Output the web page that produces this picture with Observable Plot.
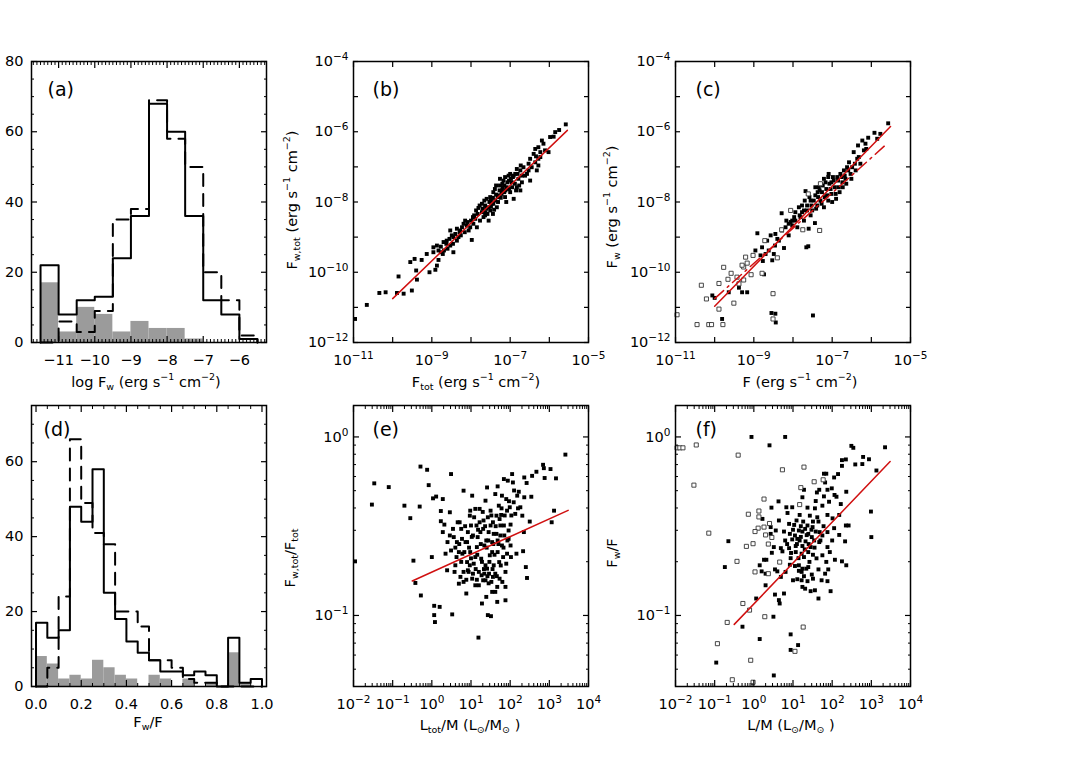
<!DOCTYPE html>
<html><head><meta charset="utf-8">
<script src="https://cdn.jsdelivr.net/npm/d3@7"></script>
<script src="https://cdn.jsdelivr.net/npm/@observablehq/plot@0.6"></script>
<style>
html,body{margin:0;padding:0;background:#fff;}
#fig{position:relative;width:1090px;height:778px;overflow:hidden;background:#fff;font-family:"DejaVu Sans",sans-serif;}
.panel{position:absolute;}
.panel svg{overflow:visible;}
.lab{position:absolute;font-size:14.5px;white-space:nowrap;transform:translate(-50%,-50%);color:#000;line-height:1;}
.lab.rot{transform:translate(-50%,-50%) rotate(-90deg);}
.lab sub{font-size:9.5px;vertical-align:-3px;line-height:0;}
.lab sup{font-size:9.5px;vertical-align:7px;line-height:0;}
</style></head><body><div id="fig"></div>
<script>
// ---------------- DATA ----------------
// (a) histogram of log Fw, bins of width 0.5 (lower edges)
const binsA = [-11.5,-11,-10.5,-10,-9.5,-9,-8.5,-8,-7.5,-7,-6.5,-6];
const histA_solid = [22,8,12,13,24,36,68,60,36,12,8,1];
const histA_dashed = [0,6,3,9,35,38,69,58,50,20,12,2];
const histA_grey = [17,3,10,8,3,6,4,4,1,0,0,0];
// (d) histogram of Fw/F, bins of width 0.05 (lower edges)
const binsD = [0,0.05,0.1,0.15,0.2,0.25,0.3,0.35,0.4,0.45,0.5,0.55,0.6,0.65,0.7,0.75,0.8,0.85,0.9,0.95];
const histD_solid = [17,13,15,48,44,58,25,18,12,9,7,4,4,3,4,3,0,13,1,2];
const histD_dashed = [0,5,24,66,49,41,38,20,20,16,7,7,5,2,1,1,0,0,0,0];
const histD_grey = [8,6,2,3,2,7,5,3,2,0,3,2,0,2,0,1,0,9,1,0];

// (b) [log10 Ftot, log10 Fw,tot]
const bPoints = [[-10.96,-11.33],[-10.66,-10.93],[-10.34,-10.59],[-10.18,-10.57],[-9.89,-10.59],[-9.72,-10.61],[-9.51,-10.52],[-9.85,-10.12],[-9.55,-9.71],[-9.44,-9.62],[-9.26,-9.65],[-9.40,-9.95],[-9.38,-10.21],[-9.13,-9.48],[-9.06,-10.0],[-8.96,-9.29],[-8.91,-9.93],[-8.87,-9.81],[-8.83,-9.65],[-8.87,-9.24],[-8.77,-9.27],[-8.69,-9.38],[-8.72,-9.48],[-8.62,-9.10],[-8.45,-9.43],[-8.53,-8.81],[-8.49,-8.95],[-8.40,-8.91],[-8.32,-9.0],[-8.23,-8.72],[-8.28,-8.81],[-8.15,-8.53],[-8.11,-8.67],[-7.98,-9.08],[-8.06,-8.81],[-7.94,-8.62],[-7.89,-8.48],[-7.81,-8.17],[-7.85,-8.72],[-7.72,-8.29],[-7.68,-8.43],[-7.64,-8.10],[-7.60,-7.91],[-7.55,-8.53],[-7.51,-8.24],[-7.47,-8.05],[-7.51,-7.86],[-7.43,-7.72],[-7.38,-7.96],[-7.34,-8.15],[-7.30,-7.81],[-7.26,-7.53],[-7.21,-7.67],[-7.17,-7.39],[-7.13,-7.86],[-7.09,-7.58],[-7.04,-7.25],[-7.0,-7.72],[-6.96,-7.44],[-6.91,-7.91],[-6.87,-7.20],[-6.83,-7.58],[-6.79,-7.34],[-6.74,-7.10],[-6.70,-7.44],[-6.66,-7.01],[-6.74,-7.67],[-6.57,-7.20],[-6.49,-7.39],[-6.53,-6.91],[-6.49,-6.77],[-6.40,-6.63],[-6.36,-6.87],[-6.32,-7.10],[-6.28,-6.96],[-6.36,-6.49],[-6.28,-6.44],[-6.23,-6.58],[-6.19,-6.25],[-6.15,-6.34],[-6.11,-6.53],[-6.02,-6.58],[-5.98,-6.15],[-5.85,-6.01],[-5.75,-5.95],[-5.89,-6.14],[-5.58,-5.79],
[-7.72,-8.05],[-7.66,-7.96],[-7.61,-8.19],[-7.58,-8.34],[-7.53,-8.00],[-7.49,-8.13],[-7.44,-7.88],[-7.41,-8.22],[-7.36,-7.79],[-7.31,-8.00],[-7.27,-7.67],[-7.24,-7.88],[-7.20,-7.48],[-7.15,-7.72],[-7.13,-7.29],[-7.10,-8.00],[-7.07,-7.44],[-7.03,-7.63],[-6.98,-7.34],[-6.95,-7.58],[-6.91,-7.25],[-6.88,-7.48],[-6.85,-7.67],[-6.81,-7.20],[-6.77,-7.53],[-7.15,-7.53],[-7.26,-7.34],[-7.36,-7.53],[-7.44,-8.34],[-7.64,-8.38],[-7.77,-8.53],[-7.83,-8.34],[-7.92,-8.38],[-8.00,-8.53],[-8.09,-8.57],[-8.19,-8.62],[-8.29,-8.86],[-8.36,-8.76],[-8.45,-9.00],[-8.55,-9.05],[-8.63,-9.19],[-8.70,-9.14],[-8.77,-9.43],[-8.83,-9.38],[-8.96,-9.43],[-8.02,-8.72],[-7.95,-8.43],[-7.87,-8.24],[-7.78,-8.10],[-7.70,-8.19],[-7.63,-8.29],[-7.55,-8.15],[-7.43,-8.05],[-7.32,-7.86],[-7.22,-7.77],[-7.12,-7.67],[-7.03,-7.39],[-6.93,-7.29],[-6.62,-7.25],[-6.70,-7.25],[-6.53,-7.10],[-6.45,-7.01],[-6.28,-6.77],[-6.23,-6.72],[-6.34,-6.70],[-6.73,-6.96],[-6.83,-7.06],[-7.0,-7.20],[-7.19,-7.58],[-7.39,-7.63],[-7.49,-7.96],[-8.46,-9.19],[-8.36,-9.10],[-8.26,-8.95],[-8.16,-8.86],[-8.60,-9.33],[-8.53,-9.24]];

// (c) [log10 F, log10 Fw], filled and open symbols
const cFilled = [[-10.06,-10.66],[-10.0,-10.73],[-9.81,-11.33],[-9.64,-10.57],[-9.38,-10.44],[-9.30,-10.57],[-9.17,-10.57],[-8.91,-8.89],[-8.96,-9.38],[-8.79,-9.29],[-8.74,-10.06],[-8.77,-9.68],[-8.66,-9.10],[-8.57,-8.95],[-8.53,-9.66],[-8.49,-9.48],[-8.45,-8.91],[-8.40,-9.05],[-8.29,-8.32],[-8.28,-8.81],[-8.23,-9.31],[-8.19,-8.72],[-8.11,-8.95],[-8.06,-8.57],[-8.02,-8.67],[-7.94,-8.53],[-7.89,-8.72],[-7.85,-8.15],[-7.81,-8.43],[-7.77,-8.29],[-7.72,-8.53],[-7.68,-7.69],[-7.66,-9.29],[-7.61,-9.26],[-7.64,-8.10],[-7.60,-8.76],[-7.55,-7.96],[-7.51,-8.24],[-7.49,-11.23],[-7.44,-8.60],[-7.43,-7.81],[-7.38,-8.10],[-7.34,-7.58],[-7.30,-7.96],[-7.26,-7.72],[-7.21,-8.15],[-7.17,-7.44],[-7.13,-7.81],[-7.09,-7.20],[-7.04,-7.63],[-7.0,-8.00],[-6.96,-7.39],[-6.91,-7.77],[-6.87,-7.29],[-6.83,-7.58],[-6.79,-7.20],[-6.74,-7.44],[-6.70,-7.10],[-6.66,-7.34],[-6.57,-6.87],[-6.53,-7.20],[-6.49,-7.01],[-6.45,-6.58],[-6.40,-7.10],[-6.36,-6.77],[-6.34,-6.39],[-6.28,-6.91],[-6.23,-6.25],[-6.15,-6.34],[-6.08,-6.17],[-5.92,-6.03],[-5.85,-6.20],[-5.77,-6.06],[-5.57,-5.76],[-8.55,-11.16],[-8.45,-11.18],[-8.44,-11.43],
[-7.77,-8.10],[-7.70,-7.96],[-7.64,-8.24],[-7.58,-7.86],[-7.53,-8.10],[-7.47,-7.96],[-7.41,-8.19],[-7.36,-7.86],[-7.32,-7.67],[-7.27,-8.05],[-7.24,-7.53],[-7.19,-7.86],[-7.15,-7.63],[-7.10,-7.96],[-7.07,-7.48],[-7.02,-7.77],[-6.98,-7.29],[-6.93,-7.58],[-6.90,-7.91],[-6.85,-7.39],[-6.81,-7.72],[-6.76,-7.29],[-6.73,-7.58],[-6.68,-7.25],[-6.64,-7.48],[-6.59,-7.10],[-6.62,-7.01],[-6.51,-7.34],[-6.42,-6.91],[-6.32,-6.72],[-6.19,-6.53],[-6.13,-6.49],[-8.02,-8.53],[-7.97,-8.43],[-8.11,-8.62],[-8.17,-8.53],[-8.36,-9.10],[-8.46,-9.24],[-8.62,-9.38],[-8.70,-9.48],[-8.83,-9.52],[-7.94,-8.29],[-7.83,-8.38],[-7.72,-8.24],[-7.10,-7.29],[-7.02,-7.44],[-7.21,-7.34],[-7.43,-7.58],[-7.37,-7.72],[-7.55,-8.38]];
const cOpen = [[-10.96,-11.21],[-10.45,-11.49],[-10.15,-11.49],[-10.08,-11.49],[-9.79,-11.49],[-9.89,-11.05],[-10.34,-10.37],[-10.21,-10.76],[-9.89,-10.32],[-9.77,-9.86],[-9.58,-10.03],[-9.66,-10.20],[-9.51,-10.88],[-9.43,-10.14],[-9.38,-10.33],[-9.26,-10.22],[-9.26,-9.85],[-9.30,-9.80],[-9.17,-9.74],[-9.07,-10.07],[-9.02,-9.52],[-9.21,-9.57],[-8.79,-10.03],[-8.72,-9.10],[-8.51,-10.61],[-8.51,-11.33],[-8.40,-9.59],[-8.29,-8.79],[-8.06,-8.24],[-7.75,-8.79],[-7.61,-7.77],[-7.32,-8.81],[-7.30,-7.48]];

// (e) [log10 Ltot/M, log10 Fw,tot/Ftot]
const ePoints = [[-1.96,-0.697],[-1.53,-0.379],[-1.47,-0.260],[-1.10,-0.281],[-0.70,-0.385],[-0.55,-0.455],[-0.47,-0.693],[-0.42,-0.818],[-0.29,-0.166],[-0.31,-0.390],[-0.28,-0.888],[-0.12,-0.184],[-0.08,-0.270],[0.0,-0.673],[0.03,-0.344],[0.06,-0.946],[0.06,-0.998],[0.08,-1.037],[0.11,-0.334],[0.20,-0.952],[0.23,-0.415],[0.23,-0.472],[0.28,-0.348],[0.28,-0.533],[0.32,-0.491],[0.35,-0.654],[0.39,-0.747],[0.46,-0.422],[0.49,-0.208],[0.49,-0.636],[0.52,-0.994],[0.54,-0.515],[0.56,-0.561],[0.58,-0.756],[0.60,-0.719],[0.64,-0.589],[0.69,-0.822],[0.71,-0.478],[0.73,-0.784],[0.75,-0.515],[0.78,-0.654],[0.81,-0.301],[0.81,-0.812],[0.86,-0.589],[0.88,-0.877],[0.90,-0.701],[0.92,-0.533],[0.94,-0.756],[0.97,-0.441],[0.98,-0.645],[1.03,-0.329],[1.03,-0.794],[1.05,-0.552],[1.07,-0.710],[1.11,-0.831],[1.14,-0.496],[1.15,-0.617],[1.19,-1.124],[1.20,-0.756],[1.22,-0.403],[1.24,-0.533],[1.26,-0.682],[1.28,-0.933],[1.31,-0.803],[1.32,-0.468],[1.34,-0.608],[1.37,-0.357],[1.39,-0.896],[1.41,-0.283],[1.41,-0.738],[1.43,-0.998],[1.45,-0.533],[1.48,-0.663],[1.50,-0.413],[1.51,-1.004],[1.52,-0.812],[1.54,-0.589],[1.56,-0.478],[1.58,-0.719],[1.62,-0.868],[1.62,-0.320],[1.65,-0.543],[1.67,-0.924],[1.68,-0.277],[1.68,-0.645],[1.71,-0.385],[1.73,-0.794],[1.75,-0.496],[1.77,-0.437],[1.79,-0.329],[1.82,-0.673],[1.84,-0.236],[1.85,-0.552],[1.88,-0.840],[1.88,-0.915],[1.90,-0.348],[1.92,-0.413],[1.94,-0.245],[1.96,-0.571],[1.99,-0.394],[2.01,-0.491],[2.02,-0.673],[2.05,-0.208],[2.07,-0.255],[2.09,-0.366],[2.13,-0.431],[2.16,-0.654],[2.18,-0.329],[2.22,-0.307],[2.26,-0.394],[2.31,-0.441],[2.33,-0.640],[2.35,-0.533],[2.36,-0.227],[2.36,-0.338],[2.40,-0.729],[2.42,-0.258],[2.43,-0.790],[2.50,-0.474],[2.54,-0.335],[2.56,-0.218],[2.67,-0.195],[2.84,-0.156],[2.86,-0.175],[2.88,-0.230],[3.03,-0.180],[3.06,-0.478],[3.12,-0.413],[3.17,-0.232],[3.41,-0.099],
[0.66,-0.478],[0.77,-0.571],[0.83,-0.645],[0.90,-0.589],[0.97,-0.719],[1.00,-0.496],[1.05,-0.766],[1.11,-0.673],[1.17,-0.561],[1.22,-0.478],[1.27,-0.775],[1.31,-0.515],[1.37,-0.719],[1.39,-0.580],[1.43,-0.450],[1.46,-0.766],[1.50,-0.496],[1.54,-0.645],[1.58,-0.543],[1.62,-0.766],[1.65,-0.441],[1.68,-0.580],[1.72,-0.701],[1.75,-0.552],[1.79,-0.608],[1.84,-0.496],[1.88,-0.756],[1.92,-0.654],[1.96,-0.524],[0.98,-0.413],[0.92,-0.747],[1.11,-0.403],[1.34,-0.766],[1.56,-0.784],[0.69,-0.645],[0.63,-0.673],[0.46,-0.552],[0.40,-0.589],[0.81,-0.756],[1.20,-0.831],[1.37,-0.803],[1.54,-0.868],[1.67,-0.840],[1.80,-0.812],[1.90,-0.710],[2.01,-0.608],
[0.70,-0.600],[0.75,-0.700],[0.85,-0.500],[0.95,-0.620],[1.00,-0.680],[1.02,-0.560],[1.08,-0.450],[1.12,-0.740],[1.16,-0.660],[1.18,-0.520],[1.25,-0.600],[1.28,-0.700],[1.30,-0.420],[1.33,-0.740],[1.36,-0.500],[1.40,-0.620],[1.42,-0.780],[1.44,-0.580],[1.47,-0.700],[1.52,-0.440],[1.55,-0.740],[1.57,-0.600],[1.60,-0.660],[1.63,-0.500],[1.66,-0.780],[1.70,-0.600],[1.73,-0.460],[1.76,-0.720],[1.78,-0.400],[1.83,-0.620],[1.86,-0.440],[1.93,-0.580],[1.97,-0.360],[2.03,-0.440],[2.10,-0.300],[2.20,-0.400],[1.15,-0.800],[1.45,-0.820],[0.60,-0.620],[0.88,-0.800]];

// (f) [log10 L/M, log10 Fw/F], filled and open symbols
const fFilled = [[-0.06,0.0],[0.40,-0.047],[0.80,0.0],[2.49,-0.050],[2.54,-0.061],[3.35,-0.058],[2.25,-0.130],[2.35,-0.126],[2.79,-0.112],[2.94,-0.125],[2.59,-0.154],[2.77,-0.152],[2.25,-0.162],[3.13,-0.188],[1.79,-0.206],[1.85,-0.206],[2.15,-0.208],[2.05,-0.227],[1.82,-0.255],[1.99,-0.288],[2.36,-0.307],[1.88,-0.296],[1.67,-0.296],[1.28,-0.296],[1.24,-0.338],[1.61,-0.311],[1.79,-0.333],[2.06,-0.325],[2.11,-0.335],[1.92,-0.363],[1.58,-0.359],[1.75,-0.385],[0.63,-0.361],[0.45,-0.396],[0.83,-0.394],[0.98,-0.394],[1.37,-0.396],[1.56,-0.400],[2.22,-0.376],[0.86,-0.426],[1.17,-0.437],[1.43,-0.441],[1.88,-0.437],[2.18,-0.437],[0.22,-0.459],[0.64,-0.468],[1.09,-0.468],[1.26,-0.474],[1.51,-0.474],[1.65,-0.474],[2.01,-0.456],[2.99,-0.418],[0.90,-0.487],[1.03,-0.493],[1.37,-0.496],[1.50,-0.505],[2.05,-0.511],[2.35,-0.496],[2.42,-0.496],[0.43,-0.505],[0.56,-0.524],[0.77,-0.530],[1.15,-0.524],[1.24,-0.530],[1.31,-0.515],[1.58,-0.530],[1.68,-0.533],[1.88,-0.533],[0.43,-0.543],[0.92,-0.543],[1.05,-0.552],[1.11,-0.571],[1.39,-0.543],[1.48,-0.561],[1.75,-0.552],[2.18,-0.549],[3.00,-0.561],[-0.65,-0.584],[0.80,-0.580],[0.98,-0.574],[1.17,-0.580],[1.32,-0.585],[1.54,-0.580],[1.67,-0.589],[2.33,-0.585],[0.51,-0.617],[0.69,-0.623],[0.90,-0.623],[1.07,-0.611],[1.24,-0.611],[1.45,-0.617],[1.88,-0.617],[0.46,-0.649],[0.73,-0.641],[1.07,-0.645],[1.22,-0.654],[1.39,-0.645],[1.51,-0.660],[1.75,-0.663],[1.94,-0.645],[0.94,-0.679],[1.14,-0.679],[1.28,-0.673],[0.26,-0.688],[0.32,-0.688],[2.07,-0.688],[2.25,-0.697],[2.36,-0.719],[0.92,-0.716],[1.05,-0.723],[1.15,-0.719],[1.24,-0.738],[1.39,-0.729],[-0.74,-0.729],[0.15,-0.719],[0.20,-0.753],[0.54,-0.742],[0.60,-0.753],[0.81,-0.756],[1.22,-0.756],[1.34,-0.738],[1.65,-0.742],[1.90,-0.742],[1.82,-0.766],[1.48,-0.771],[0.30,-0.766],[0.69,-0.784],[1.00,-0.803],[1.11,-0.797],[1.22,-0.803],[1.37,-0.808],[1.51,-0.794],[1.73,-0.803],[1.88,-0.808],[0.30,-0.831],[1.24,-0.840],[1.31,-0.850],[1.45,-0.864],[1.56,-0.859],[1.96,-0.864],[0.54,-0.883],[0.77,-0.877],[0.06,-0.905],[1.65,-0.905],[0.64,-0.914],[0.66,-0.933],[0.50,-1.007],[-0.29,-1.063],[0.94,-1.106],[0.15,-1.132],[1.13,-1.166],[0.94,-1.193],[-0.96,-1.264],[0.51,-1.336],
[1.00,-0.520],[1.10,-0.600],[1.20,-0.560],[1.30,-0.630],[1.35,-0.550],[1.42,-0.700],[1.47,-0.520],[1.55,-0.620],[1.60,-0.680],[1.70,-0.580],[1.78,-0.500],[1.85,-0.700],[0.95,-0.650],[1.15,-0.750],[1.28,-0.780],[1.40,-0.600],[1.62,-0.450],[2.00,-0.580],[0.85,-0.600],[1.20,-0.500]];
const fOpen = [[-1.96,-0.061],[-1.89,-0.061],[-1.81,-0.061],[-1.47,-0.045],[-0.40,-0.102],[-1.53,-0.270],[0.73,-0.184],[1.28,-0.169],[1.54,-0.251],[1.77,-0.240],[1.20,-0.284],[1.17,-0.379],[0.26,-0.348],[0.13,-0.415],[-0.14,-0.433],[0.13,-0.448],[0.40,-0.485],[0.11,-0.511],[0.26,-0.505],[0.03,-0.530],[0.30,-0.549],[0.46,-0.563],[-1.15,-0.539],[0.37,-0.600],[-0.02,-0.598],[-0.19,-0.613],[-0.43,-0.697],[0.66,-0.701],[0.03,-0.756],[0.37,-0.766],[-0.28,-0.933],[-0.11,-0.970],[0.28,-1.007],[-0.68,-1.039],[1.26,-1.065],[-0.93,-1.158],[1.05,-1.201],[-0.08,-1.251],[-0.55,-1.360],[-0.02,-1.374]];

// fitted lines, [log10 x, log10 y] end points
const fitB = [[-10.0,-10.75],[-5.54,-5.96]];
const fitC = [[-10.0,-10.97],[-5.51,-5.85]];
const fitC2 = [[-10.0,-10.75],[-5.59,-6.33]];
const fitE = [[-0.5,-0.807],[3.48,-0.411]];
const fitF = [[-0.5,-1.05],[3.48,-0.138]];

// tick values
const fluxXTicks = [1e-11,1e-10,1e-9,1e-8,1e-7,1e-6,1e-5];
const fluxXLabels = [1e-11,1e-9,1e-7,1e-5];
const fluxYTicks = [1e-12,1e-11,1e-10,1e-9,1e-8,1e-7,1e-6,1e-5,1e-4];
const fluxYLabels = [1e-12,1e-10,1e-8,1e-6,1e-4];
const lmTicks = [1e-2,1e-1,1e0,1e1,1e2,1e3,1e4];
const ratioYTicks = [0.1,1];
const histAXLabels = [-11,-10,-9,-8,-7,-6];
const histYLabelsA = [0,20,40,60,80];
const histYLabelsD = [0,20,40,60];
const histDXLabels = [0,0.2,0.4,0.6,0.8,1.0];

// ---------------- HELPERS ----------------
const NS = "http://www.w3.org/2000/svg";
const FONT = "DejaVu Sans, sans-serif";
const W = 290, H = 331, ML = 40, MR = 15, MT = 15, MB = 35;
const RED = "#d01010";
const fig = document.getElementById("fig");
const toXY = ([lx, ly]) => ({x: 10 ** lx, y: 10 ** ly});
const fmtPow = d => "10^" + String(Math.round(Math.log10(d))).replace("-", "\u2212");
const logMinors = (lo, hi) => {
  const out = [];
  for (let e = lo; e < hi; e++) for (let m = 2; m <= 9; m++) out.push(m * 10 ** e);
  return out;
};
function stepData(edges, width, counts) {
  const pts = [{x: edges[0], y: 0}];
  edges.forEach((e, i) => pts.push({x: e, y: counts[i]}));
  pts.push({x: edges[edges.length - 1] + width, y: 0});
  return pts;
}
function supify(svg) {
  svg.querySelectorAll("text").forEach(t => {
    const s = t.textContent;
    const i = s.indexOf("^");
    if (i < 0) return;
    t.textContent = "";
    const a = document.createElementNS(NS, "tspan"); a.textContent = s.slice(0, i);
    const b = document.createElementNS(NS, "tspan"); b.textContent = s.slice(i + 1);
    b.setAttribute("font-size", "10.5"); b.setAttribute("dy", "-6");
    t.append(a, b);
  });
}
function boxAxes(o) {
  const m = [];
  for (const anchor of ["bottom", "top"]) {
    m.push(Plot.axisX(o.xMajor, {anchor, tickSize: -o.majLen, tickFormat: () => "", label: null, strokeWidth: 1.2}));
    if (o.xMinor) m.push(Plot.axisX(o.xMinor, {anchor, tickSize: -o.minLen, tickFormat: () => "", label: null, strokeWidth: 1}));
  }
  for (const anchor of ["left", "right"]) {
    m.push(Plot.axisY(o.yMajor, {anchor, tickSize: -o.majLen, tickFormat: () => "", label: null, strokeWidth: 1.2}));
    if (o.yMinor) m.push(Plot.axisY(o.yMinor, {anchor, tickSize: -o.minLen, tickFormat: () => "", label: null, strokeWidth: 1}));
  }
  m.push(Plot.axisX(o.xLabels, {anchor: "bottom", tickSize: 0, tickPadding: 12, tickFormat: o.xFmt, label: null, fontSize: 14.5}));
  m.push(Plot.axisY(o.yLabels, {anchor: "left", tickSize: 0, tickPadding: o.yPad ?? 7, tickFormat: o.yFmt, label: null, fontSize: 14.5}));
  return m;
}
function panelLabel(txt, dx, dy) {
  return Plot.text([txt], {frameAnchor: "top-left", dx, dy, fontSize: 19, fill: "black", textAnchor: "start", lineAnchor: "top"});
}
function place(svg, frameLeft, frameTop) {
  supify(svg);
  const wrap = document.createElement("div");
  wrap.className = "panel";
  wrap.style.left = (frameLeft - ML) + "px";
  wrap.style.top = (frameTop - MT) + "px";
  wrap.append(svg);
  fig.append(wrap);
}
function label(html, x, y, rot) {
  const d = document.createElement("div");
  d.className = "lab" + (rot ? " rot" : "");
  d.style.left = x + "px"; d.style.top = y + "px";
  d.innerHTML = html;
  fig.append(d);
}
const base = {
  width: W, height: H, marginLeft: ML, marginRight: MR, marginTop: MT, marginBottom: MB,
  style: {background: "transparent", fontFamily: FONT, fontSize: "14.5px", color: "black", overflow: "visible"}
};

// ---------------- HISTOGRAM PANELS ----------------
function histPanel({edges, width, solid, dashed, grey, xDomain, yDomain, axes, lab}) {
  const greyBins = edges.map((e, i) => ({x1: e, x2: e + width, y: grey[i]}));
  return Plot.plot({
    ...base,
    x: {domain: xDomain},
    y: {domain: yDomain},
    marks: [
      Plot.rectY(greyBins, {x1: "x1", x2: "x2", y: "y", fill: "#9b9b9b"}),
      Plot.line(stepData(edges, width, dashed), {x: "x", y: "y", curve: "step-after", stroke: "black", strokeWidth: 2, strokeDasharray: "12,8"}),
      Plot.line(stepData(edges, width, solid), {x: "x", y: "y", curve: "step-after", stroke: "black", strokeWidth: 2}),
      ...boxAxes(axes),
      Plot.frame({stroke: "black", strokeWidth: 1.5}),
      lab
    ]
  });
}

const pa = histPanel({
  edges: binsA, width: 0.5, solid: histA_solid, dashed: histA_dashed, grey: histA_grey,
  xDomain: [-11.75, -5.25], yDomain: [0, 80],
  axes: {xMajor: histAXLabels, xMinor: d3.range(-11.7, -5.25, 0.1).filter(v => Math.abs(v - Math.round(v)) > 0.01),
         yMajor: histYLabelsA, yMinor: d3.range(5, 80, 5).filter(v => v % 20), majLen: 6, minLen: 3,
         xLabels: histAXLabels, yLabels: histYLabelsA, xFmt: d => d3.format("d")(d), yFmt: d3.format("d"), yPad: 8},
  lab: panelLabel("(a)", 16, 21)
});
place(pa, 31, 61);

const pd = histPanel({
  edges: binsD, width: 0.05, solid: histD_solid, dashed: histD_dashed, grey: histD_grey,
  xDomain: [-0.02, 1.02], yDomain: [0, 75],
  axes: {xMajor: histDXLabels, xMinor: d3.range(0.05, 1.0, 0.05).filter(v => Math.abs(v * 5 - Math.round(v * 5)) > 0.01),
         yMajor: histYLabelsD, yMinor: d3.range(5, 75, 5).filter(v => v % 20), majLen: 6, minLen: 3,
         xLabels: histDXLabels, yLabels: histYLabelsD, xFmt: d3.format(".1f"), yFmt: d3.format("d"), yPad: 8},
  lab: panelLabel("(d)", 12, 17)
});
place(pd, 31, 405);

// ---------------- FLUX SCATTER PANELS ----------------
function fluxAxes() {
  return boxAxes({xMajor: fluxXTicks, yMajor: fluxYTicks, majLen: 5, minLen: 3,
    xLabels: fluxXLabels, yLabels: fluxYLabels, xFmt: fmtPow, yFmt: fmtPow, yPad: 5});
}
const pb = Plot.plot({
  ...base,
  x: {type: "log", domain: [1e-11, 1e-5]},
  y: {type: "log", domain: [1e-12, 1e-4]},
  marks: [
    Plot.dot(bPoints.map(toXY), {x: "x", y: "y", symbol: "square", r: 2.2, fill: "black"}),
    Plot.line(fitB.map(toXY), {x: "x", y: "y", stroke: RED, strokeWidth: 1.5}),
    ...fluxAxes(),
    Plot.frame({stroke: "black", strokeWidth: 1.5}),
    panelLabel("(b)", 19, 21)
  ]
});
place(pb, 353, 61);

const pc = Plot.plot({
  ...base,
  x: {type: "log", domain: [1e-11, 1e-5]},
  y: {type: "log", domain: [1e-12, 1e-4]},
  marks: [
    Plot.dot(cFilled.map(toXY), {x: "x", y: "y", symbol: "square", r: 2.2, fill: "black"}),
    Plot.dot(cOpen.map(toXY), {x: "x", y: "y", symbol: "square", r: 2.3, fill: "white", stroke: "#333", strokeWidth: 0.9}),
    Plot.line(fitC.map(toXY), {x: "x", y: "y", stroke: RED, strokeWidth: 1.5}),
    Plot.line(fitC2.map(toXY), {x: "x", y: "y", stroke: RED, strokeWidth: 1.5, strokeDasharray: "12,5,2,5"}),
    ...fluxAxes(),
    Plot.frame({stroke: "black", strokeWidth: 1.5}),
    panelLabel("(c)", 20, 21)
  ]
});
place(pc, 675, 61);

// ---------------- RATIO SCATTER PANELS ----------------
function ratioAxes() {
  return boxAxes({xMajor: lmTicks, xMinor: logMinors(-2, 4), yMajor: ratioYTicks,
    yMinor: [0.04,0.05,0.06,0.07,0.08,0.09,0.2,0.3,0.4,0.5,0.6,0.7,0.8,0.9], majLen: 6, minLen: 3,
    xLabels: lmTicks, yLabels: ratioYTicks, xFmt: fmtPow, yFmt: fmtPow, yPad: 5});
}
const pe = Plot.plot({
  ...base,
  x: {type: "log", domain: [1e-2, 1e4]},
  y: {type: "log", domain: [0.04, 1.5]},
  marks: [
    Plot.dot(ePoints.map(toXY), {x: "x", y: "y", symbol: "square", r: 2.2, fill: "black"}),
    Plot.line(fitE.map(toXY), {x: "x", y: "y", stroke: RED, strokeWidth: 1.5}),
    ...ratioAxes(),
    Plot.frame({stroke: "black", strokeWidth: 1.5}),
    panelLabel("(e)", 19, 17)
  ]
});
place(pe, 353, 405);

const pf = Plot.plot({
  ...base,
  x: {type: "log", domain: [1e-2, 1e4]},
  y: {type: "log", domain: [0.04, 1.5]},
  marks: [
    Plot.dot(fFilled.map(toXY), {x: "x", y: "y", symbol: "square", r: 2.2, fill: "black"}),
    Plot.dot(fOpen.map(toXY), {x: "x", y: "y", symbol: "square", r: 2.3, fill: "white", stroke: "#333", strokeWidth: 0.9}),
    Plot.line(fitF.map(toXY), {x: "x", y: "y", stroke: RED, strokeWidth: 1.5}),
    ...ratioAxes(),
    Plot.frame({stroke: "black", strokeWidth: 1.5}),
    panelLabel("(f)", 20, 17)
  ]
});
place(pf, 675, 405);

// ---------------- AXIS TITLES ----------------
label("log F<sub>w</sub> (erg s<sup>\u22121</sup> cm<sup>\u22122</sup>)", 146, 382);
label("F<sub>tot</sub> (erg s<sup>\u22121</sup> cm<sup>\u22122</sup>)", 476, 382);
label("F (erg s<sup>\u22121</sup> cm<sup>\u22122</sup>)", 800, 382);
label("F<sub>w,tot</sub> (erg s<sup>\u22121</sup> cm<sup>\u22122</sup>)", 292, 200, true);
label("F<sub>w</sub> (erg s<sup>\u22121</sup> cm<sup>\u22122</sup>)", 612, 207, true);
label("F<sub>w</sub>/F", 148, 722);
label("L<sub>tot</sub>/M (L<sub>\u2299</sub>/M<sub>\u2299</sub> )", 470, 725);
label("L/M (L<sub>\u2299</sub>/M<sub>\u2299</sub> )", 791, 725);
label("F<sub>w,tot</sub>/F<sub>tot</sub>", 290, 558, true);
label("F<sub>w</sub>/F", 612, 553, true);
</script></body></html>
